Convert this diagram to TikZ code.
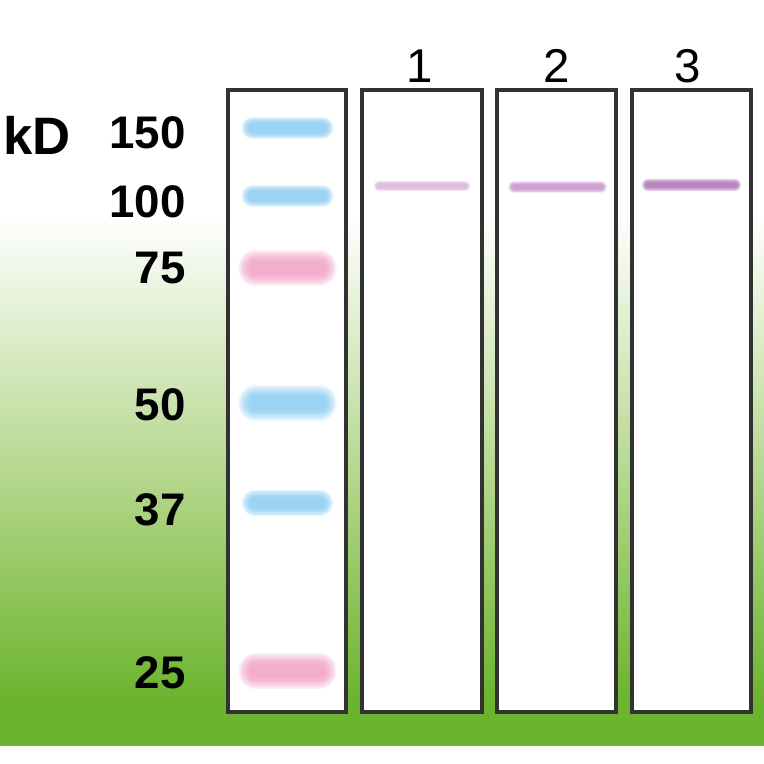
\documentclass[tikz,border=0pt]{standalone}
\usepackage{fontspec}
\setmainfont{Liberation Sans}
\definecolor{gelgreen}{RGB}{108,180,46}
\definecolor{midgreen}{RGB}{178,214,138}
\definecolor{ladblue}{RGB}{125,200,240}
\definecolor{ladpink}{RGB}{242,150,192}
\definecolor{laneline}{RGB}{50,50,50}
\definecolor{bandA}{RGB}{214,170,218}
\definecolor{bandB}{RGB}{196,130,200}
\definecolor{bandC}{RGB}{165,95,172}
\tikzset{
  lane/.style={draw=laneline,line width=1.8pt,fill=white},
  mw/.style={font=\fontsize{26}{26}\selectfont\bfseries,anchor=east},
  lanenum/.style={font=\fontsize{27}{27}\selectfont}
}
% blurred band: x1, x2, y, colour, width in pt
\newcommand\gelband[5]{%
  \foreach \f in {1.0,0.9,0.8,0.7,0.6,0.5,0.4}
    \draw[#4,line cap=round,opacity=0.18,line width=#5*\f] (#1,#3) -- (#2,#3);
}
\begin{document}
\begin{tikzpicture}[x=0.02cm,y=-0.02cm]
  \useasboundingbox (0,0) rectangle (764,764);
  \fill[white] (0,0) rectangle (764,764);
  \fill[gelgreen] (0,699) rectangle (764,746);
  \shade[top color=white,bottom color=midgreen] (0,215) rectangle (764,484);
  \shade[top color=midgreen,bottom color=gelgreen] (0,483) rectangle (764,700);
  % lanes
  \draw[lane] (228,90) rectangle (346,712);
  \draw[lane] (362,90) rectangle (482,712);
  \draw[lane] (497,90) rectangle (616,712);
  \draw[lane] (632,90) rectangle (751,712);
  % ladder
  \gelband{253}{322}{128}{ladblue}{13pt}
  \gelband{253}{322}{196}{ladblue}{13pt}
  \gelband{256}{319}{268}{ladpink}{20pt}
  \gelband{256}{319}{403}{ladblue}{20pt}
  \gelband{255}{320}{503}{ladblue}{15pt}
  \gelband{256}{319}{671}{ladpink}{20pt}
  % samples
  \gelband{379}{465}{186}{bandA}{6pt}
  \gelband{514}{601}{187}{bandB}{6.5pt}
  \gelband{648}{735}{185}{bandC}{7pt}
  % labels
  \node[font=\fontsize{30}{30}\selectfont\bfseries,anchor=west,inner sep=0pt] (kd) at (3,135) {kD};
  \node[mw] (m150) at (192,133) {150};
  \node[mw] (m100) at (192,202) {100};
  \node[mw] (m75) at (192,268) {75};
  \node[mw] (m50) at (192,405) {50};
  \node[mw] (m37) at (192,510) {37};
  \node[mw] (m25) at (192,673) {25};
  \node[lanenum] (n1) at (420,66) {1};
  \node[lanenum] (n2) at (557,66) {2};
  \node[lanenum] (n3) at (688,66) {3};
\end{tikzpicture}
\end{document}
